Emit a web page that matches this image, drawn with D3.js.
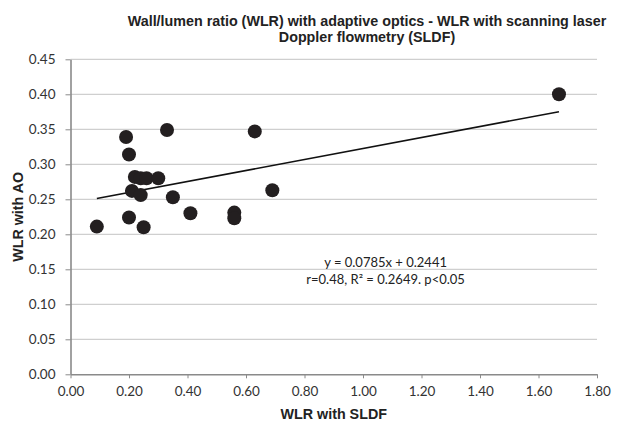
<!DOCTYPE html>
<html>
<head>
<meta charset="utf-8">
<script src="https://cdn.jsdelivr.net/npm/d3@7"></script>
<style>
  html, body { margin: 0; padding: 0; background: #fff; }
  svg { display: block; }
</style>
</head>
<body>
<div id="chart"></div>
<script>
// ---- data ----
const titleLines = ["Wall/lumen ratio (WLR) with adaptive optics - WLR with scanning laser", "Doppler flowmetry (SLDF)"];
const xLabel = "WLR with SLDF";
const yLabel = "WLR with AO";
const sldf = [0.09, 0.19, 0.20, 0.22, 0.24, 0.26, 0.30, 0.21, 0.24, 0.20, 0.25, 0.33, 0.35, 0.41, 0.56, 0.56, 0.63, 0.69, 1.67];
const ao   = [0.211, 0.339, 0.314, 0.282, 0.280, 0.280, 0.280, 0.262, 0.256, 0.224, 0.210, 0.349, 0.253, 0.230, 0.231, 0.223, 0.347, 0.263, 0.400];
const xTicks = [0, 0.2, 0.4, 0.6, 0.8, 1.0, 1.2, 1.4, 1.6, 1.8];
const yTicks = [0, 0.05, 0.10, 0.15, 0.20, 0.25, 0.30, 0.35, 0.40, 0.45];
const trendSlope = 0.0785;
const trendIntercept = 0.2441;
const annotation = ["y = 0.0785x + 0.2441", "r=0.48, R\u00B2 = 0.2649. p<0.05"];

// ---- layout ----
const W = 619, H = 421;
const m = { left: 70.5, top: 59.3, right: 619 - 597, bottom: 421 - 374.3 };
const iw = W - m.left - m.right, ih = H - m.top - m.bottom;

const svg = d3.select("#chart").append("svg").attr("width", W).attr("height", H);
const g = svg.append("g").attr("transform", `translate(${m.left},${m.top})`);

const x = d3.scaleLinear().domain([0, 1.8]).range([0, iw]);
const y = d3.scaleLinear().domain([0, 0.45]).range([ih, 0]);

// gridlines
g.append("g")
  .selectAll("line").data(yTicks.filter(d => d > 0)).join("line")
  .attr("x1", 0).attr("x2", iw)
  .attr("y1", d => y(d)).attr("y2", d => y(d))
  .attr("stroke", "#c3c3c3").attr("stroke-width", 1);

// axes
const xAxis = g.append("g").attr("transform", `translate(0,${ih})`)
  .call(d3.axisBottom(x).tickValues(xTicks).tickFormat(d3.format(".2f")).tickSizeOuter(0).tickSizeInner(4).tickPadding(8));
const yAxis = g.append("g")
  .call(d3.axisLeft(y).tickValues(yTicks).tickFormat(d3.format(".2f")).tickSizeOuter(0).tickSizeInner(5).tickPadding(10));

[xAxis, yAxis].forEach(a => {
  a.select(".domain").attr("stroke", "#8a8a8a").attr("stroke-width", 1.6);
  a.selectAll(".tick line").attr("stroke", "#8a8a8a").attr("stroke-width", 1);
  a.selectAll(".tick text").attr("font-family", "Lato, 'Liberation Sans', sans-serif")
    .attr("font-size", "13.5px").attr("fill", "#333");
});

// trend line
const xExt = d3.extent(sldf);
g.append("line")
  .attr("x1", x(xExt[0])).attr("y1", y(trendSlope * xExt[0] + trendIntercept))
  .attr("x2", x(xExt[1])).attr("y2", y(trendSlope * xExt[1] + trendIntercept))
  .attr("stroke", "#111").attr("stroke-width", 1.6);

// points
g.append("g").selectAll("circle").data(sldf.map((d, i) => [d, ao[i]])).join("circle")
  .attr("cx", d => x(d[0])).attr("cy", d => y(d[1])).attr("r", 7)
  .attr("fill", "#231f20");

// annotation
g.append("g").selectAll("text").data(annotation).join("text")
  .attr("x", 385.6 - m.left).attr("y", (d, i) => 267 - m.top + i * 17.5)
  .attr("text-anchor", "middle")
  .attr("font-family", "Lato, 'Liberation Sans', sans-serif")
  .attr("font-size", "13px").attr("fill", "#222")
  .text(d => d);

// title
svg.append("g").selectAll("text").data(titleLines).join("text")
  .attr("x", 367).attr("y", (d, i) => 25.5 + i * 16)
  .attr("text-anchor", "middle")
  .attr("font-family", "'Liberation Sans', Arial, sans-serif")
  .attr("font-weight", "bold").attr("font-size", "14.3px").attr("fill", "#222")
  .text(d => d);

// axis titles
svg.append("text")
  .attr("x", m.left + iw / 2).attr("y", 419)
  .attr("text-anchor", "middle")
  .attr("font-family", "'Liberation Sans', Arial, sans-serif")
  .attr("font-weight", "bold").attr("font-size", "14.3px").attr("fill", "#222")
  .text(xLabel);

svg.append("text")
  .attr("transform", `translate(23,${m.top + ih / 2}) rotate(-90)`)
  .attr("text-anchor", "middle")
  .attr("font-family", "'Liberation Sans', Arial, sans-serif")
  .attr("font-weight", "bold").attr("font-size", "14.3px").attr("fill", "#222")
  .text(yLabel);
</script>
</body>
</html>
